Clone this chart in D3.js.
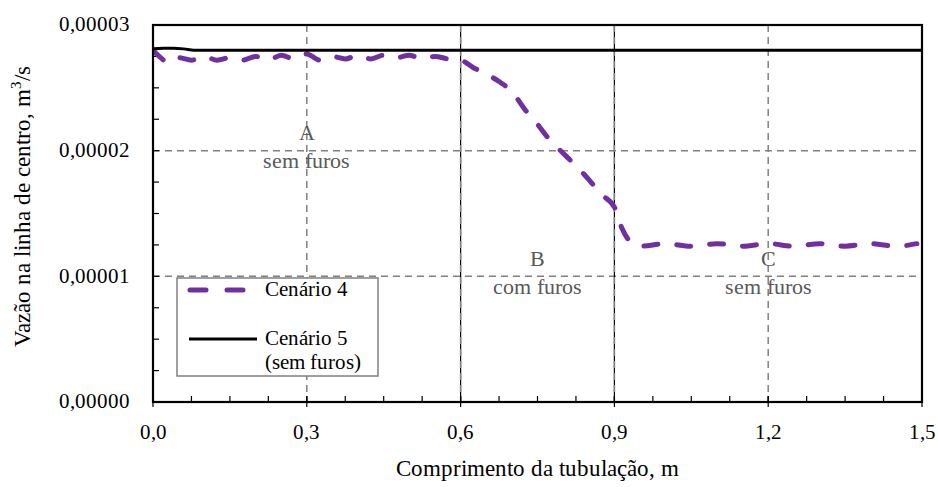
<!DOCTYPE html>
<html lang="pt">
<head>
  <meta charset="UTF-8">
  <title>Vazão na linha de centro</title>
  <style>
    @font-face { font-family: "TNRLocal"; src: local("Liberation Serif"), local("LiberationSerif"), local("Liberation Serif Regular"); }
    body { margin: 0; background: #fff; font-family: "TNRLocal", "Liberation Serif", "Times New Roman", serif; }
    #fig { position: relative; width: 938px; height: 487px; }
    #fig svg { position: absolute; left: 0; top: 0; }
    .lbl { position: absolute; white-space: nowrap; line-height: 1; color: #000;
      font-family: "TNRLocal", "Liberation Serif", "Times New Roman", serif; }
    .lbl sup { font-size: 0.65em; line-height: 0; vertical-align: 0.55em; }
  </style>
  <script src="https://d3js.org/d3.v7.min.js"></script>
</head>
<body>
<div id="fig"></div>
<script>
  // dados (vazão em 1e-5 m3/s)
  const x4 = [0, 0.015, 0.03, 0.05, 0.075, 0.1, 0.125, 0.15, 0.175, 0.2, 0.225, 0.25, 0.275, 0.3,
    0.325, 0.35, 0.375, 0.4, 0.425, 0.45, 0.475, 0.5, 0.525, 0.55, 0.575, 0.6, 0.625, 0.65, 0.675,
    0.7, 0.725, 0.75, 0.775, 0.8, 0.825, 0.85, 0.875, 0.9, 0.915, 0.93, 0.95, 1.0, 1.05, 1.1, 1.15,
    1.2, 1.25, 1.3, 1.35, 1.4, 1.45, 1.49];
  const y4 = [2.80, 2.74, 2.70, 2.74, 2.72, 2.75, 2.72, 2.74, 2.72, 2.75, 2.72, 2.76, 2.73, 2.77,
    2.72, 2.75, 2.73, 2.76, 2.73, 2.76, 2.74, 2.76, 2.73, 2.75, 2.73, 2.72, 2.66, 2.61, 2.55,
    2.47, 2.33, 2.21, 2.08, 1.98, 1.88, 1.77, 1.65, 1.55, 1.38, 1.28, 1.24, 1.26, 1.24, 1.26, 1.24,
    1.26, 1.24, 1.26, 1.24, 1.26, 1.24, 1.26];
  const x5 = [0, 0.02, 0.04, 0.06, 0.08, 0.1, 0.6, 1.0, 1.5];
  const y5 = [2.81, 2.815, 2.815, 2.81, 2.80, 2.80, 2.80, 2.80, 2.80];
  const xTicks = [0, 0.3, 0.6, 0.9, 1.2, 1.5];
  const yTicks = [0, 1, 2, 3];
  const regions = [
    { x: 0.3, y: 2.0, letter: "A", desc: "sem furos" },
    { x: 0.75, y: 1.0, letter: "B", desc: "com furos" },
    { x: 1.2, y: 1.0, letter: "C", desc: "sem furos" }
  ];

  const W = 938, H = 487;
  const m = { left: 153, right: 16, top: 25, bottom: 85 };
  const iw = W - m.left - m.right, ih = H - m.top - m.bottom;

  const chart = d3.select("#fig");
  const svg = chart.append("svg").attr("width", W).attr("height", H);
  const g = svg.append("g").attr("transform", `translate(${m.left},${m.top})`);

  const x = d3.scaleLinear().domain([0, 1.5]).range([0, iw]);
  const y = d3.scaleLinear().domain([0, 3]).range([ih, 0]);

  // texto em HTML, posicionado pela linha de base
  function label(px, py, txt, size, anchor, color) {
    const shift = anchor === "middle" ? "-50%" : anchor === "end" ? "-100%" : "0";
    return chart.append("div").attr("class", "lbl")
      .style("left", px + "px").style("top", (py - 0.84 * size) + "px")
      .style("font-size", size + "px").style("color", color || "#000")
      .style("transform", `translateX(${shift})`)
      .text(txt);
  }

  svg.append("defs").append("clipPath").attr("id", "clip")
    .append("rect").attr("width", iw).attr("height", ih);

  // grade tracejada
  g.selectAll(".hg").data([1, 2]).join("line")
    .attr("x1", 0).attr("x2", iw).attr("y1", d => y(d)).attr("y2", d => y(d))
    .attr("stroke", "#808080").attr("stroke-width", 1.5).attr("stroke-dasharray", "7,5");
  // linhas pretas das regiões
  g.selectAll(".bl").data([0.6, 0.9]).join("line")
    .attr("x1", d => x(d)).attr("x2", d => x(d)).attr("y1", 0).attr("y2", ih)
    .attr("stroke", "#000").attr("stroke-width", 1.2);
  g.selectAll(".vg").data([0.3, 0.6, 0.9, 1.2]).join("line")
    .attr("x1", d => x(d)).attr("x2", d => x(d)).attr("y1", 0).attr("y2", ih)
    .attr("stroke", "#808080").attr("stroke-width", 1.5).attr("stroke-dasharray", "7,5");

  // eixos
  const minorX = d3.range(0, 1.5001, 0.075);
  const minorY = d3.range(0, 3.0001, 0.25);
  g.selectAll(".mx").data(minorX).join("line")
    .attr("x1", d => x(d)).attr("x2", d => x(d)).attr("y1", ih).attr("y2", ih - 6)
    .attr("stroke", "#000").attr("stroke-width", 1.2);
  g.selectAll(".my").data(minorY).join("line")
    .attr("y1", d => y(d)).attr("y2", d => y(d)).attr("x1", 0).attr("x2", 6)
    .attr("stroke", "#000").attr("stroke-width", 1.2);
  g.selectAll(".tx").data(xTicks).join("line")
    .attr("x1", d => x(d)).attr("x2", d => x(d)).attr("y1", ih - 6).attr("y2", ih + 5)
    .attr("stroke", "#000").attr("stroke-width", 1.2);

  // séries
  const line = d3.line().x(d => x(d[0])).y(d => y(d[1])).curve(d3.curveMonotoneX);
  const clipG = g.append("g").attr("clip-path", "url(#clip)");
  clipG.append("path").datum(x4.map((v, i) => [v, y4[i]]))
    .attr("d", line).attr("fill", "none").attr("stroke", "#7030A0")
    .attr("stroke-width", 5).attr("stroke-linecap", "round").attr("stroke-dasharray", "14,19");
  clipG.append("path").datum(x5.map((v, i) => [v, y5[i]]))
    .attr("d", line).attr("fill", "none").attr("stroke", "#000").attr("stroke-width", 3);

  // moldura
  g.append("rect").attr("width", iw).attr("height", ih)
    .attr("fill", "none").attr("stroke", "#000").attr("stroke-width", 2.2);

  // legenda
  const lx = 177, ly = 278;
  const lg = svg.append("g").attr("transform", `translate(${lx},${ly})`);
  lg.append("rect").attr("width", 201).attr("height", 98)
    .attr("fill", "#fff").attr("stroke", "#808080").attr("stroke-width", 1.5);
  lg.append("line").attr("x1", 13).attr("x2", 70).attr("y1", 12).attr("y2", 12)
    .attr("stroke", "#7030A0").attr("stroke-width", 5).attr("stroke-linecap", "round")
    .attr("stroke-dasharray", "16,21");
  lg.append("line").attr("x1", 12).attr("x2", 80).attr("y1", 61).attr("y2", 61)
    .attr("stroke", "#000").attr("stroke-width", 3);

  // textos
  regions.forEach(r => {
    label(m.left + x(r.x), m.top + y(r.y) - 10, r.letter, 22, "middle", "#595959");
    label(m.left + x(r.x), m.top + y(r.y) + 18, r.desc, 22, "middle", "#595959");
  });
  xTicks.forEach(d => label(m.left + x(d), m.top + ih + 38,
    d3.format(".1f")(d).replace(".", ","), 21, "middle"));
  yTicks.forEach(d => label(m.left - 23, m.top + y(d) + 7,
    d3.format(".5f")(d * 1e-5).replace(".", ","), 21, "end"));
  label(lx + 88, ly + 19, "Cenário 4", 21, "start");
  label(lx + 88, ly + 68, "Cenário 5", 21, "start");
  label(lx + 88, ly + 92, "(sem furos)", 21, "start");
  label(m.left + iw / 2, 476, "Comprimento da tubulação, m", 23, "middle");

  chart.append("div").attr("class", "lbl")
    .style("left", "22px").style("top", (m.top + ih / 2 - 8) + "px")
    .style("font-size", "23px")
    .style("transform", "translate(-50%,-50%) rotate(-90deg)")
    .html("Vazão na linha de centro, m<sup>3</sup>/s");
</script>
</body>
</html>
